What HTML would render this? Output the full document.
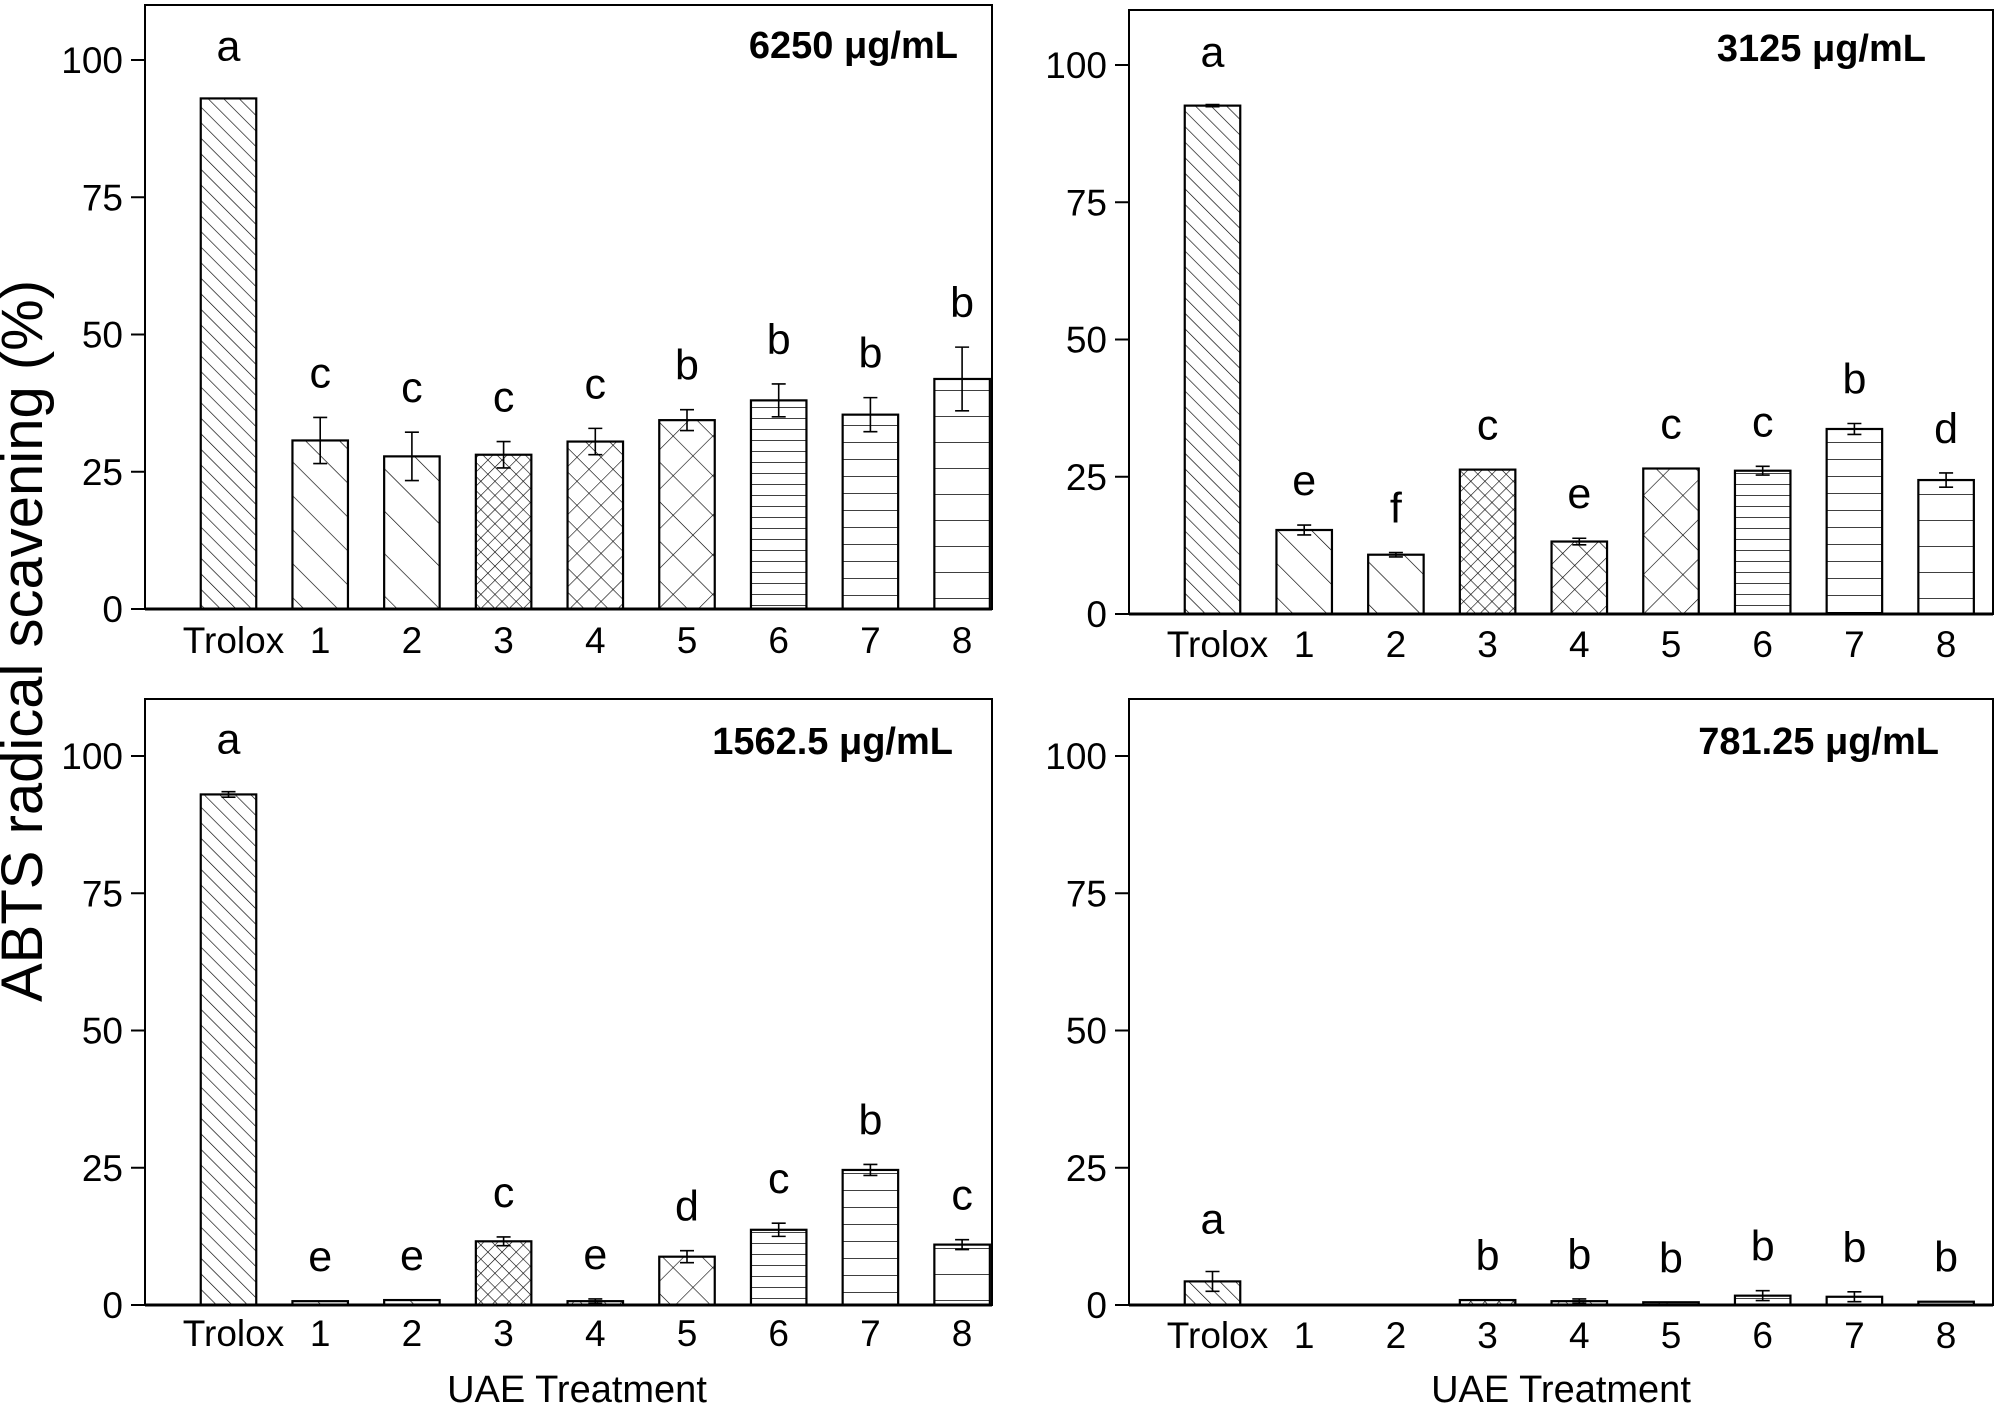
<!DOCTYPE html>
<html><head><meta charset="utf-8">
<style>
html,body{margin:0;padding:0;background:#fff;}
svg{display:block;}
text{font-family:"Liberation Sans Narrow","Liberation Sans",Arial,sans-serif;fill:#000;}
</style></head>
<body>
<svg id="chart" width="2000" height="1410" viewBox="0 0 2000 1410" xmlns="http://www.w3.org/2000/svg">
<defs>
  <pattern id="p0" patternUnits="userSpaceOnUse" width="11" height="11" patternTransform="rotate(-45)"><line x1="0" y1="0" x2="0" y2="11" stroke="#000" stroke-width="1.3"/></pattern>
  <pattern id="p1" patternUnits="userSpaceOnUse" width="24" height="24" patternTransform="rotate(-45)"><line x1="0" y1="0" x2="0" y2="24" stroke="#000" stroke-width="1.3"/></pattern>
  <pattern id="p2" patternUnits="userSpaceOnUse" width="30" height="30" patternTransform="rotate(-45)"><line x1="0" y1="0" x2="0" y2="30" stroke="#000" stroke-width="1.3"/></pattern>
  <pattern id="p3" patternUnits="userSpaceOnUse" width="10" height="10" patternTransform="rotate(45)"><line x1="0" y1="0" x2="0" y2="10" stroke="#000" stroke-width="1.2"/><line x1="0" y1="0" x2="10" y2="0" stroke="#000" stroke-width="1.2"/></pattern>
  <pattern id="p4" patternUnits="userSpaceOnUse" width="17" height="17" patternTransform="rotate(45)"><line x1="0" y1="0" x2="0" y2="17" stroke="#000" stroke-width="1.2"/><line x1="0" y1="0" x2="17" y2="0" stroke="#000" stroke-width="1.2"/></pattern>
  <pattern id="p5" patternUnits="userSpaceOnUse" width="28" height="28" patternTransform="rotate(45)"><line x1="0" y1="0" x2="0" y2="28" stroke="#000" stroke-width="1.2"/><line x1="0" y1="0" x2="28" y2="0" stroke="#000" stroke-width="1.2"/></pattern>
  <pattern id="p6" patternUnits="userSpaceOnUse" width="20" height="11"><line x1="0" y1="0" x2="20" y2="0" stroke="#000" stroke-width="1.4"/></pattern>
  <pattern id="p7" patternUnits="userSpaceOnUse" width="20" height="17"><line x1="0" y1="0" x2="20" y2="0" stroke="#000" stroke-width="1.4"/></pattern>
  <pattern id="p8" patternUnits="userSpaceOnUse" width="20" height="26"><line x1="0" y1="0" x2="20" y2="0" stroke="#000" stroke-width="1.4"/></pattern>
</defs>
<text x="0" y="0" transform="translate(42,641) rotate(-90)" text-anchor="middle" style="font-family:'Liberation Sans',Arial,sans-serif;font-size:58px;">ABTS radical scavening (%)</text>
<text x="577" y="1402" text-anchor="middle" style="font-size:38px;">UAE Treatment</text>
<text x="1561" y="1402" text-anchor="middle" style="font-size:38px;">UAE Treatment</text>
</svg>
<script>
const categories = ["Trolox","1","2","3","4","5","6","7","8"];
const yTicks = [0,25,50,75,100];
const titles = ["6250 \u03bcg/mL","3125 \u03bcg/mL","1562.5 \u03bcg/mL","781.25 \u03bcg/mL"];
const values6250 = [93.0,30.7,27.8,28.1,30.5,34.4,38.0,35.4,41.9];
const errors6250 = [0,4.2,4.4,2.4,2.4,1.9,3.0,3.1,5.8];
const letters6250 = ["a","c","c","c","c","b","b","b","b"];
const values3125 = [92.6,15.3,10.8,26.3,13.2,26.5,26.1,33.7,24.4];
const errors3125 = [0.2,0.9,0.4,0,0.6,0,0.8,1.0,1.3];
const letters3125 = ["a","e","f","c","e","c","c","b","d"];
const values1562 = [93.0,0.7,0.9,11.6,0.7,8.8,13.7,24.6,11.0];
const errors1562 = [0.5,0,0,0.8,0.4,1.1,1.2,1.0,0.9];
const letters1562 = ["a","e","e","c","e","d","c","b","c"];
const values781 = [4.3,0,0,0.9,0.7,0.5,1.7,1.5,0.6];
const errors781 = [1.8,0,0,0,0.4,0,0.9,0.9,0];
const letters781 = ["a","","","b","b","b","b","b","b"];

const NS="http://www.w3.org/2000/svg";
const svg=document.getElementById('chart');
function mk(tag,attrs,parent){const e=document.createElementNS(NS,tag);for(const k in attrs)e.setAttribute(k,attrs[k]);(parent||svg).appendChild(e);return e;}

const panels=[
 {key:"6250",left:145,right:992,top:5,y0:609,vals:values6250,errs:errors6250,lets:letters6250,title:titles[0],tx:958,ty:58,labY:653},
 {key:"3125",left:1129,right:1993,top:10,y0:614,vals:values3125,errs:errors3125,lets:letters3125,title:titles[1],tx:1926,ty:61,labY:657},
 {key:"1562",left:145,right:992,top:699,y0:1305,vals:values1562,errs:errors1562,lets:letters1562,title:titles[2],tx:953,ty:754,labY:1346},
 {key:"781",left:1129,right:1993,top:699,y0:1305,vals:values781,errs:errors781,lets:letters781,title:titles[3],tx:1939,ty:754,labY:1348}
];
const PX_PER_UNIT=5.49, BAR_W=55.5, STEP=91.7, OFF=83.5;

panels.forEach(p=>{
  const g=mk('g',{});
  
  
  const y=v=>p.y0-v*PX_PER_UNIT;
  const x=i=>p.left+OFF+i*STEP;
  p.vals.forEach((v,i)=>{
    const e=p.errs[i];
    if(v>0){
      const r=mk('rect',{x:x(i)-BAR_W/2,y:y(v),width:BAR_W,height:p.y0-y(v),fill:'url(#p'+i+')',stroke:'#000','stroke-width':2.2},g);
      
      
      if(e>0){
        const eg=mk('path',{d:`M${x(i)},${y(v+e)}V${y(v-e)}M${x(i)-7},${y(v+e)}H${x(i)+7}M${x(i)-7},${y(v-e)}H${x(i)+7}`,stroke:'#000','stroke-width':1.6,fill:'none'},g);
        
        
      }
    }
    if(p.lets[i]){
      const t=mk('text',{x:x(i),y:y(v+e)-(i===0?38:30),'text-anchor':'middle','font-size':43},g);
      t.textContent=p.lets[i];
      
      
    }
  });
  const fr=mk('rect',{x:p.left,y:p.top,width:p.right-p.left,height:p.y0-p.top,fill:'none',stroke:'#000','stroke-width':2},g);
  
  
  const ax=mk('line',{x1:p.left,x2:p.right,y1:p.y0,y2:p.y0,stroke:'#000','stroke-width':3},g);
  
  
  yTicks.forEach(t=>{
    const l=mk('line',{x1:p.left-14,x2:p.left,y1:y(t),y2:y(t),stroke:'#000','stroke-width':2},g);
    
    
    const tx=mk('text',{x:p.left-22,y:y(t)+13,'text-anchor':'end','font-size':37},g);
    tx.textContent=t;
    
    
  });
  categories.forEach((c,i)=>{
    const tx=mk('text',{x:i===0?x(i)+5:x(i),y:p.labY,'text-anchor':'middle','font-size':37},g);
    tx.textContent=c;
    
    
  });
  const tt=mk('text',{x:p.tx,y:p.ty,'text-anchor':'end','font-size':38,'font-weight':'bold'},g);
  tt.textContent=p.title;
  
  
});
</script>
</body></html>
